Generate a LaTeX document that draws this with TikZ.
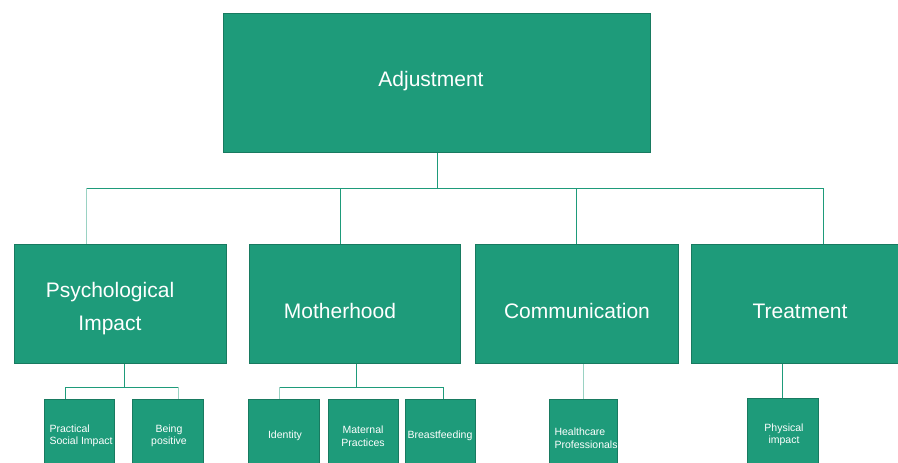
\documentclass[tikz,border=0pt]{standalone}
\usepackage{fontspec}
\setmainfont{Liberation Sans}
\usetikzlibrary{positioning}
\definecolor{boxgreen}{RGB}{30,155,122}
\definecolor{edgegreen}{RGB}{24,122,96}

\begin{document}
\begin{tikzpicture}[x=1pt,y=-1pt,
box/.style={draw=edgegreen, fill=boxgreen, line width=1pt, inner sep=0pt, anchor=north west},
big/.style={text=white, font=\fontsize{21}{33}\selectfont, align=center},
small/.style={text=white, font=\fontsize{10.5}{12.5}\selectfont, align=center},
link/.style={draw=boxgreen, line width=1pt},
faint/.style={draw=boxgreen!45, line width=1pt}]
\useasboundingbox (0,0) rectangle (898,463);
\clip (0,0) rectangle (898,463);

% top level
\node[box, minimum width=427, minimum height=139] (adj) at (223,13) {};
\node[big] (adj-t) at (431,81) {Adjustment};

% second level
\node[box, minimum width=212, minimum height=119] (psych) at (14,244) {};
\node[box, minimum width=211, minimum height=119] (mother) at (249,244) {};
\node[box, minimum width=203, minimum height=119] (comm) at (475,244) {};
\node[box, minimum width=207, minimum height=119] (treat) at (691,244) {};
\node[big] (psych-t) at (110,309) {Psychological\\Impact};
\node[big] (mother-t) at (340,311) {Motherhood};
\node[big] (comm-t) at (577,311) {Communication};
\node[big] (treat-t) at (800,311) {Treatment};

% third level
\node[box, minimum width=70, minimum height=80] (social) at (44,399) {};
\node[box, minimum width=71, minimum height=80] (positive) at (132,399) {};
\node[box, minimum width=71, minimum height=80] (identity) at (248,399) {};
\node[box, minimum width=70, minimum height=80] (maternal) at (328,399) {};
\node[box, minimum width=70, minimum height=80] (breast) at (405,399) {};
\node[box, minimum width=68, minimum height=80] (health) at (549,399) {};
\node[box, minimum width=71, minimum height=80] (physical) at (747,398) {};
\node[small, align=left, anchor=west] (social-t) at (46,436) {Practical\\Social Impact};
\node[small] (positive-t) at (169,436) {Being\\positive};
\node[small] (identity-t) at (285,436) {Identity};
\node[small] (maternal-t) at (363,436) {Maternal\\Practices};
\node[small] (breast-t) at (440,436) {Breastfeeding};
\node[small, align=left, anchor=west] (health-t) at (551,438) {Healthcare\\Professionals};
\node[small] (physical-t) at (784,435) {Physical\\impact};

% connectors, top to second level
\coordinate (j1) at (86,188);
\coordinate (j2) at (340,188);
\coordinate (j3) at (576,188);
\coordinate (j4) at (823,188);
\draw[link] (adj.south) -- (adj.south |- j1);
\draw[link] (j1) -- (j4);
\draw[faint] (j1) -- (j1 |- psych.north);
\draw[link] (j2) -- (j2 |- mother.north);
\draw[link] (j3) -- (j3 |- comm.north);
\draw[link] (j4) -- (j4 |- treat.north);

% connectors, second to third level
\coordinate (p1) at (65,387);
\coordinate (p2) at (178,387);
\coordinate (m1) at (279,387);
\coordinate (m2) at (443,387);
\draw[link] (psych.south -| 124,0) -- (124,387);
\draw[link] (p1) -- (p2);
\draw[link] (p1) -- (p1 |- social.north);
\draw[faint] (p2) -- (p2 |- positive.north);
\draw[link] (mother.south -| 356,0) -- (356,387);
\draw[link] (m1) -- (m2);
\draw[faint] (m1) -- (m1 |- identity.north);
\draw[link] (m2) -- (m2 |- breast.north);
\draw[faint] (comm.south -| 583,0) -- (health.north -| 583,0);
\draw[link] (treat.south -| 782,0) -- (physical.north -| 782,0);
\end{tikzpicture}
\end{document}
